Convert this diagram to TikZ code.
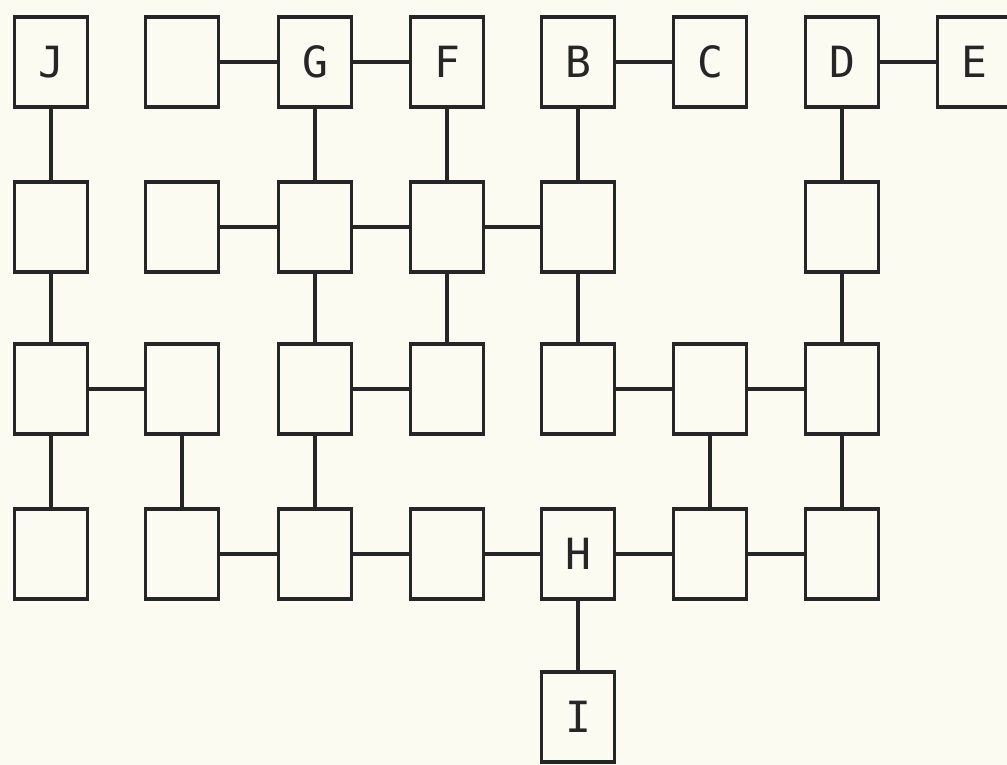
\documentclass[tikz,border=0pt]{standalone}
\usepackage{fontspec}
\setmonofont{DejaVu Sans Mono}
\usepackage{xcolor}
\usepackage{tikz}
\usetikzlibrary{positioning}

\definecolor{paper}{HTML}{FCFBF1}
\definecolor{ink}{HTML}{262626}

\begin{document}
\begin{tikzpicture}[
    x=1pt, y=-1pt,
    cell/.style={draw=ink, line width=3.5pt, fill=paper, minimum width=73pt, minimum height=90pt,
                 inner sep=0pt, text=ink, font=\ttfamily\fontsize{43}{43}\selectfont},
    link/.style={draw=ink, line width=3.5pt}
]
    % paper and page size
    \fill[paper] (0,0) rectangle (1007,765);
    \useasboundingbox (0,0) rectangle (1007,765);

    % row 1
    \node[cell] (J)   at (51,62)  {J};
    \node[cell] (n12) at (182,62) {};
    \node[cell] (G)   at (315,62) {G};
    \node[cell] (F)   at (447,62) {F};
    \node[cell] (B)   at (578,62) {B};
    \node[cell] (C)   at (710,62) {C};
    \node[cell] (D)   at (842,62) {D};
    \node[cell] (E)   at (974,62) {E};

    % row 2
    \node[cell] (n21) at (51,227)  {};
    \node[cell] (n22) at (182,227) {};
    \node[cell] (n23) at (315,227) {};
    \node[cell] (n24) at (447,227) {};
    \node[cell] (n25) at (578,227) {};
    \node[cell] (n27) at (842,227) {};

    % row 3
    \node[cell] (n31) at (51,389)  {};
    \node[cell] (n32) at (182,389) {};
    \node[cell] (n33) at (315,389) {};
    \node[cell] (n34) at (447,389) {};
    \node[cell] (n35) at (578,389) {};
    \node[cell] (n36) at (710,389) {};
    \node[cell] (n37) at (842,389) {};

    % row 4
    \node[cell] (n41) at (51,554)  {};
    \node[cell] (n42) at (182,554) {};
    \node[cell] (n43) at (315,554) {};
    \node[cell] (n44) at (447,554) {};
    \node[cell] (H)   at (578,554) {H};
    \node[cell] (n46) at (710,554) {};
    \node[cell] (n47) at (842,554) {};

    % row 5
    \node[cell] (I)   at (578,717) {I};

    % horizontal links
    \draw[link] (n12) -- (G);
    \draw[link] (G) -- (F);
    \draw[link] (B) -- (C);
    \draw[link] (D) -- (E);
    \draw[link] (n22) -- (n23);
    \draw[link] (n23) -- (n24);
    \draw[link] (n24) -- (n25);
    \draw[link] (n31) -- (n32);
    \draw[link] (n33) -- (n34);
    \draw[link] (n35) -- (n36);
    \draw[link] (n36) -- (n37);
    \draw[link] (n42) -- (n43);
    \draw[link] (n43) -- (n44);
    \draw[link] (n44) -- (H);
    \draw[link] (H) -- (n46);
    \draw[link] (n46) -- (n47);

    % vertical links
    \draw[link] (J) -- (n21);
    \draw[link] (G) -- (n23);
    \draw[link] (F) -- (n24);
    \draw[link] (B) -- (n25);
    \draw[link] (D) -- (n27);
    \draw[link] (n21) -- (n31);
    \draw[link] (n23) -- (n33);
    \draw[link] (n24) -- (n34);
    \draw[link] (n25) -- (n35);
    \draw[link] (n27) -- (n37);
    \draw[link] (n31) -- (n41);
    \draw[link] (n32) -- (n42);
    \draw[link] (n33) -- (n43);
    \draw[link] (n36) -- (n46);
    \draw[link] (n37) -- (n47);
    \draw[link] (H) -- (I);
\end{tikzpicture}
\end{document}
